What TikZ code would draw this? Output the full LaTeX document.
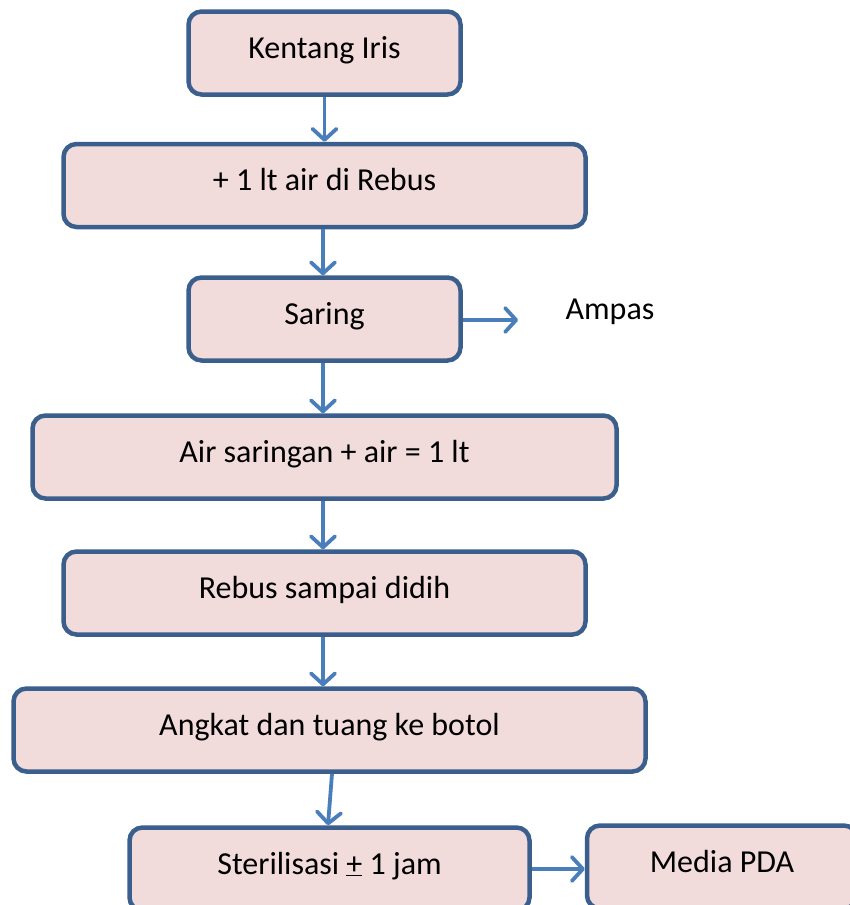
\documentclass[tikz,border=0pt]{standalone}
\usepackage{fontspec}
\setmainfont{Carlito}
\usetikzlibrary{arrows.meta}
\definecolor{boxline}{HTML}{3A5F8D}
\definecolor{boxfill}{HTML}{F2DCDB}
\definecolor{arrowc}{HTML}{4A7EBB}
\begin{document}
\begin{tikzpicture}[x=1pt,y=-1pt,
  flowbox/.style={draw=boxline,fill=boxfill,line width=4.5pt,rounded corners=13pt,
    minimum height=83pt,inner sep=0pt,font=\fontsize{32}{38}\selectfont,
    text height=23pt,text depth=13pt},
  flowarrow/.style={draw=arrowc,line width=3.8pt,
    -{Straight Barb[length=11pt,width=24pt,line width=3.8pt,round]}},
  plain/.style={font=\fontsize{32}{38}\selectfont,inner sep=0pt}]
\useasboundingbox (0,0) rectangle (850,905);
\node[flowbox,minimum width=272pt] (b1) at (324.5,53) {Kentang Iris};
\node[flowbox,minimum width=522pt] (b2) at (324.5,185.5) {+ 1 lt air di Rebus};
\node[flowbox,minimum width=272pt] (b3) at (324.5,319) {Saring};
\node[flowbox,minimum width=584pt] (b4) at (324.5,457) {Air saringan + air = 1 lt};
\node[flowbox,minimum width=522pt] (b5) at (324.5,593) {Rebus sampai didih};
\node[flowbox,minimum width=632pt] (b6) at (329.5,730) {Angkat dan tuang ke botol};
\node[flowbox,minimum width=400pt] (b7) at (329.5,869) {Sterilisasi \underline{+} 1 jam};
\node[flowbox,minimum width=270pt] (b8) at (722,867) {Media PDA};
\node[plain] (ampas) at (610,312) {Ampas};
\coordinate (ampasend) at (518,320);
\draw[flowarrow] (b1.south) -- (b2.north);
\draw[flowarrow] ([xshift=-1.5pt]b2.south) -- ([xshift=-1.5pt]b3.north);
\draw[flowarrow] ([xshift=-1.5pt]b3.south) -- ([xshift=-1.5pt]b4.north);
\draw[flowarrow] ([xshift=-1.5pt]b4.south) -- ([xshift=-1.5pt]b5.north);
\draw[flowarrow] ([xshift=-1.5pt]b5.south) -- ([xshift=-6.5pt]b6.north);
\draw[flowarrow] ([xshift=2.5pt]b6.south) -- ([xshift=-1.5pt]b7.north);
\draw[flowarrow] (b3.east |- ampasend) -- (ampasend);
\draw[flowarrow] (b7.east) -- (b8.west |- b7.east);
\end{tikzpicture}
\end{document}
